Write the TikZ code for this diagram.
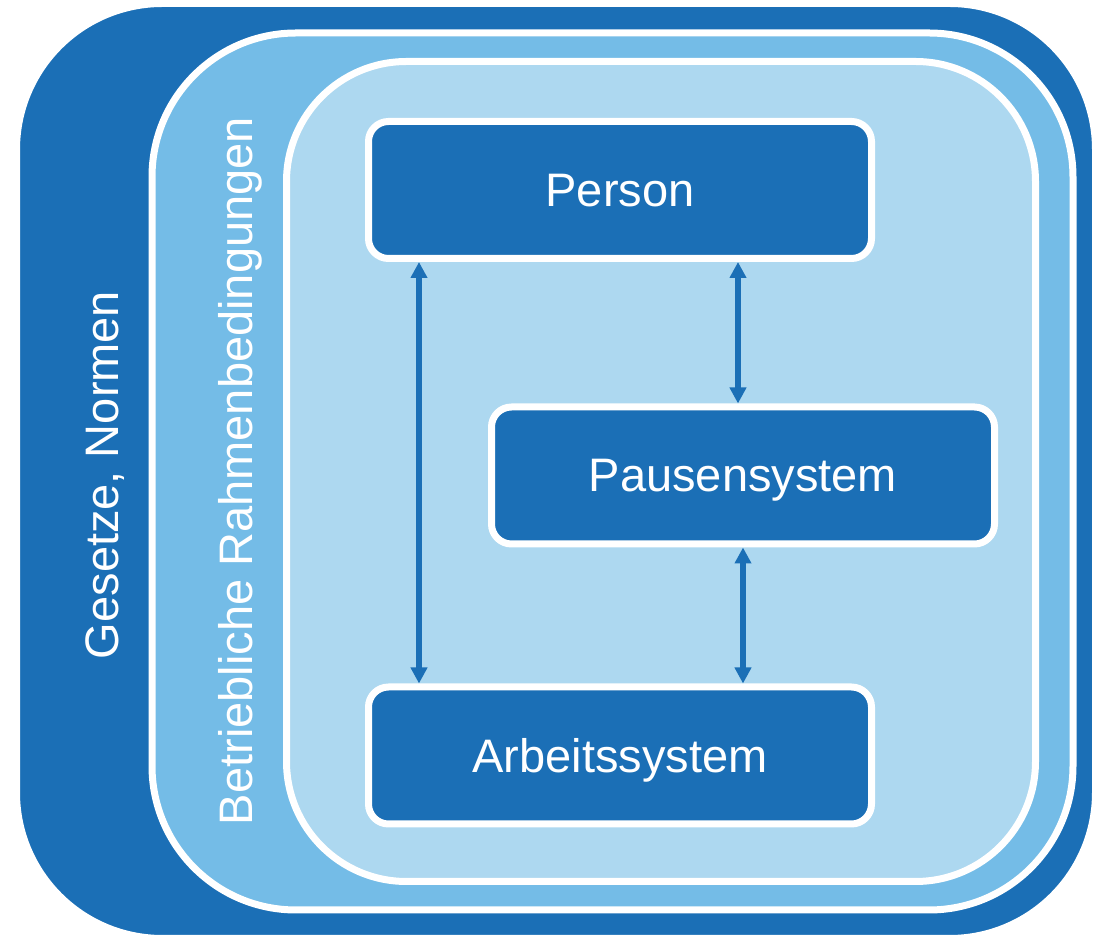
\documentclass[tikz,border=0pt]{standalone}
\usepackage{fontspec}
\setmainfont{Liberation Sans}
\usetikzlibrary{positioning,shadows,arrows.meta}

\definecolor{dunkelblau}{RGB}{27,111,182}
\definecolor{mittelblau}{RGB}{116,188,231}
\definecolor{hellblau}{RGB}{173,216,240}

\tikzset{
  rahmen/.style={draw=white, line width=3.5pt,
    drop shadow={opacity=0.2, shadow xshift=0.6pt, shadow yshift=-1.2pt}},
  kasten/.style={rahmen, fill=dunkelblau, rounded corners=10pt,
    minimum width=251.5pt, minimum height=68.5pt, text=white,
    text depth=0pt, font=\fontsize{23.5}{28}\selectfont},
  beschriftung/.style={text=white, rotate=90, font=\fontsize{23.5}{28}\selectfont},
  pfeil/.style={draw=dunkelblau, line width=2.8pt,
    {Triangle[width=8pt,length=8pt]}-{Triangle[width=8pt,length=8pt]}}
}

\begin{document}
\begin{tikzpicture}[x=0.5pt,y=-0.5pt]
            \useasboundingbox (0,0) rectangle (1099,945);

            % Rahmen aussen: Gesetze, Normen
            \draw[rahmen, fill=dunkelblau, rounded corners=73pt] (16.5,3.5) rectangle (1095.5,938.5);
            \node[beschriftung] (gesetze) at (105,475) {Gesetze, Normen};

            % Rahmen mitte: betriebliche Rahmenbedingungen
            \draw[rahmen, fill=mittelblau, rounded corners=72pt] (152,33) rectangle (1073,910);
            \node[beschriftung] (betrieb) at (240,471) {Betriebliche Rahmenbedingungen};

            % Rahmen innen
            \draw[rahmen, fill=hellblau, rounded corners=60pt] (286.5,61.5) rectangle (1035.5,881.5);

            % Kaesten
            \node[kasten] (person) at (620,190) {Person};
            \node[kasten] (pause) at (743,475.5) {Pausensystem};
            \node[kasten] (arbeit) at (620,755.5) {Arbeitssystem};

            % Pfeile zwischen den Kaesten
            \draw[pfeil] ([xshift=27pt]person.south west) -- ([xshift=27pt]arbeit.north west);
            \draw[pfeil] ([xshift=-2.5pt]pause.north) -- ([xshift=-2.5pt]pause.north |- person.south);
            \draw[pfeil] (pause.south) -- (pause.south |- arbeit.north);
        \end{tikzpicture}
\end{document}
